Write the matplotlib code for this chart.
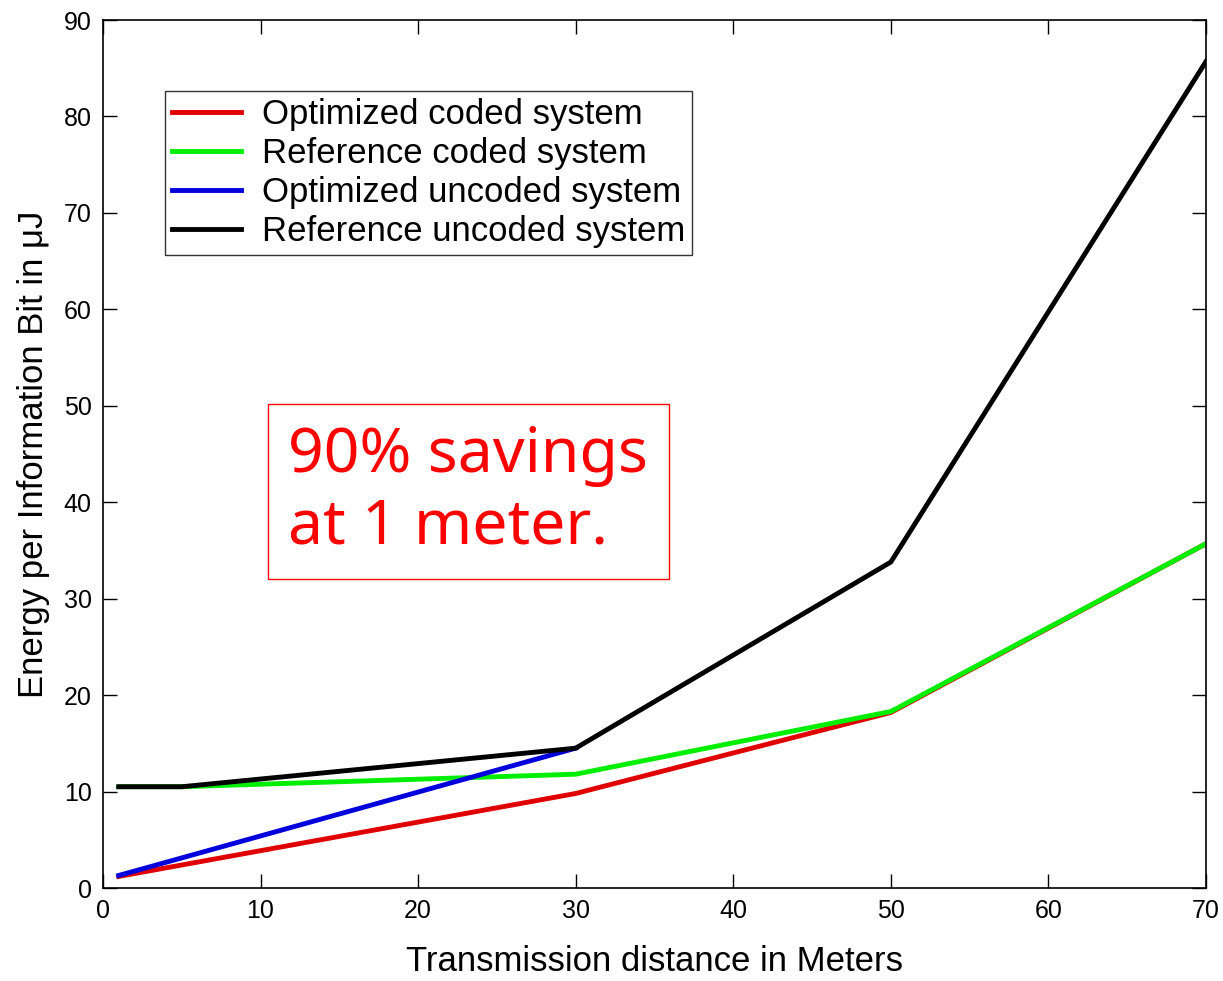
import matplotlib
matplotlib.use("Agg")
import matplotlib.pyplot as plt

plt.rcParams['font.family'] = ['Liberation Sans', 'DejaVu Sans']

# Data
x_opt_coded = [1, 30, 50, 70]
y_opt_coded = [1.2, 9.8, 18.2, 35.7]

x_ref_coded = [1, 5, 30, 50, 70]
y_ref_coded = [10.5, 10.5, 11.8, 18.3, 35.7]

x_opt_uncoded = [1, 30]
y_opt_uncoded = [1.3, 14.5]

x_ref_uncoded = [1, 5, 30, 50, 70]
y_ref_uncoded = [10.5, 10.5, 14.5, 33.8, 85.7]

labels = ["Optimized coded system", "Reference coded system",
          "Optimized uncoded system", "Reference uncoded system"]
xticks = [0, 10, 20, 30, 40, 50, 60, 70]
yticks = [0, 10, 20, 30, 40, 50, 60, 70, 80, 90]

fig = plt.figure(figsize=(12.23, 9.81), dpi=100)
ax = fig.add_axes([0.0842, 0.0948, 0.9861 - 0.0842, 0.9796 - 0.0948])

lw = 3.5
ax.plot(x_opt_coded, y_opt_coded, color="#e00000", lw=lw, label=labels[0])
ax.plot(x_ref_coded, y_ref_coded, color="#00ee00", lw=lw, label=labels[1])
ax.plot(x_opt_uncoded, y_opt_uncoded, color="#0000dd", lw=lw, label=labels[2])
ax.plot(x_ref_uncoded, y_ref_uncoded, color="black", lw=lw, label=labels[3])

ax.set_xlim(0, 70)
ax.set_ylim(0, 90)
ax.set_xticks(xticks)
ax.set_yticks(yticks)
ax.tick_params(direction='in', top=True, right=True, length=10, width=1,
               labelsize=18)
ax.tick_params(axis='x', pad=8)
ax.tick_params(axis='y', pad=8)
for s in ax.spines.values():
    s.set_linewidth(1.2)

ax.set_xlabel("Transmission distance in Meters", fontsize=25, labelpad=16)
ax.set_ylabel("Energy per Information Bit in μJ", fontsize=25, labelpad=10)

leg = ax.legend(loc='upper left', bbox_to_anchor=(0.056, 0.918), fontsize=25,
                frameon=True, fancybox=False, edgecolor='black',
                handlelength=2.0, handletextpad=0.6, borderpad=0.2,
                labelspacing=0.17, borderaxespad=0)
leg.get_frame().set_linewidth(1.0)

ax.text(0.168, 0.457, "90% savings\nat 1 meter.", transform=ax.transAxes,
        fontsize=45, color="red", family=['Noto Sans', 'DejaVu Sans'],
        va='center', ha='left', linespacing=1.2,
        bbox=dict(boxstyle='square,pad=0.33', facecolor='white', edgecolor='red', lw=1))

fig.savefig("out.png", dpi=100)
